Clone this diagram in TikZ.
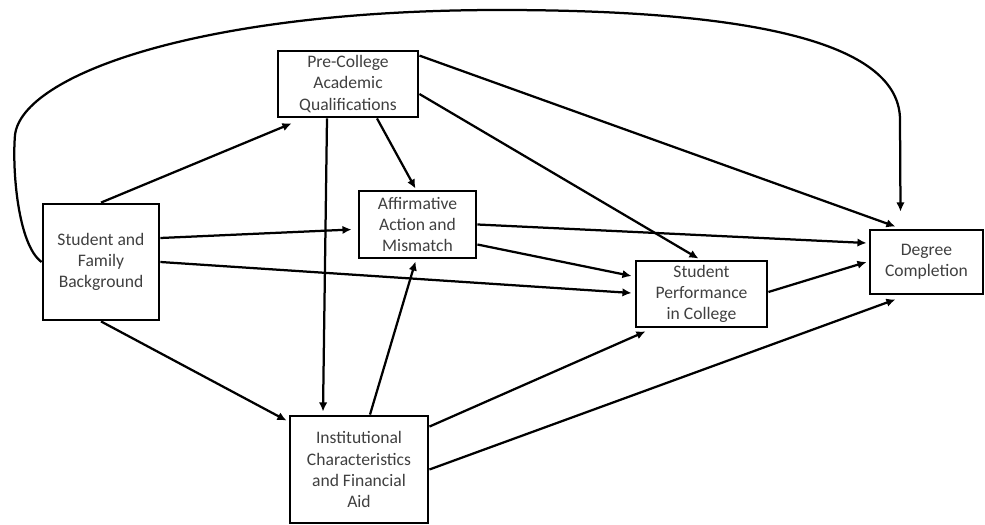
\documentclass[tikz,border=0pt]{standalone}
\usepackage{fontspec}
\setmainfont{Carlito}
\usepackage{tikz}
\usetikzlibrary{arrows.meta, positioning, calc}

\begin{document}
\begin{tikzpicture}[x=0.025cm, y=-0.025cm,
      box/.style={rectangle, draw, line width=2pt, fill=white, inner sep=0pt, align=center,
        text=black!75, font=\fontsize{12.5}{15}\selectfont},
      link/.style={-{Latex[length=6.5pt, width=6pt]}, line width=1.6pt}]
      \useasboundingbox (0,0) rectangle (985,525);

      % Blocks
      \node[box, minimum width=2.9cm, minimum height=2.9cm] (stud) at (101,262) {Student and\\Family\\Background};
      \node[box, minimum width=3.5cm, minimum height=1.65cm] (pre) at (348,84) {Pre-College\\Academic\\Qualifications};
      \node[box, minimum width=2.925cm, minimum height=1.675cm] (aff) at (417.5,224.5) {Affirmative\\Action and\\Mismatch};
      \node[box, minimum width=3.275cm, minimum height=1.65cm] (perf) at (701.5,294) {Student\\Performance\\in College};
      \node[box, minimum width=2.825cm, minimum height=1.6cm] (deg) at (926.5,262) {Degree\\Completion};
      \node[box, minimum width=3.45cm, minimum height=2.675cm] (inst) at (359,469.5) {Institutional\\Characteristics\\and Financial\\Aid};

      % Long path over the top
      \coordinate (bend) at (900,120);
      \draw[link] (stud.west) .. controls (18,245) and (12,170) .. (15,135)
        .. controls (22,75) and (200,10) .. (500,10)
        .. controls (780,10) and (900,50) .. (bend) -- ($(deg.north)+(-26,-17)$);

      % Arrows from student background
      \draw[link] (stud.north) -- ($(pre.south west)+(15,5)$);
      \draw[link] ($(stud.east)+(0,-24)$) -- ($(aff.west)+(-6,5)$);
      \draw[link] (stud.east) -- ($(perf.west)+(-3,-1)$);
      \draw[link] (stud.south) -- ($(inst.north west)+(-2,6)$);

      % Arrows from pre-college
      \draw[link] ($(pre.south)+(-21,0)$) -- ($(inst.north)+(-36,-3)$);
      \draw[link] ($(pre.south)+(29,0)$) -- ($(aff.north)+(-2,-1)$);
      \draw[link] ($(pre.north east)+(0,6)$) -- ($(deg.north)+(-31,-2)$);
      \draw[link] ($(pre.east)+(0,10)$) -- ($(perf.north)+(-3,-1)$);

      % Arrows from affirmative action
      \draw[link] (aff.east) -- ($(deg.west)+(-2,-19)$);
      \draw[link] ($(aff.east)+(0,20)$) -- ($(perf.west)+(-3,-18)$);

      % Arrows from institution
      \draw[link] ($(inst.north)+(11,0)$) -- ($(aff.south)+(-2,2)$);
      \draw[link] ($(inst.north east)+(0,12)$) -- ($(perf.south west)+(11,3)$);
      \draw[link] (inst.east) -- ($(deg.south)+(-31,4)$);

      % Performance to completion
      \draw[link] ($(perf.east)+(0,-2)$) -- ($(deg.west)+(-2,0)$);
    \end{tikzpicture}
\end{document}
